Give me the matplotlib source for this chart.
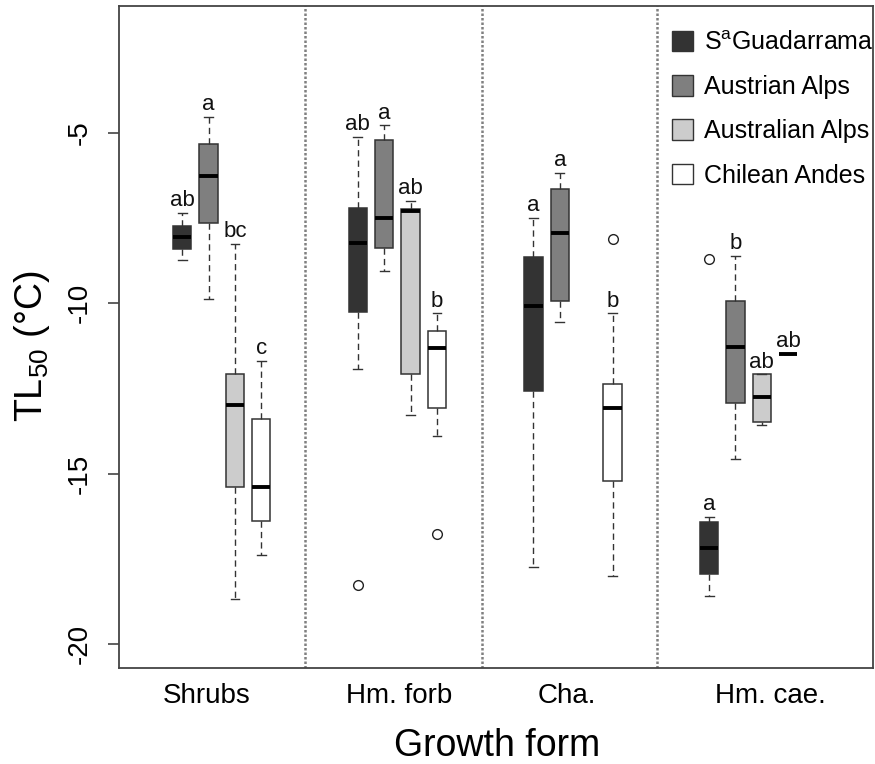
import numpy as np
import matplotlib
matplotlib.use('Agg')
import matplotlib.pyplot as plt
from matplotlib.patches import Patch

plt.rcParams['font.family'] = ['Liberation Sans', 'DejaVu Sans']
plt.rcParams['mathtext.fontset'] = 'custom'
plt.rcParams['mathtext.rm'] = 'Liberation Sans'
plt.rcParams['mathtext.it'] = 'Liberation Sans:italic'
plt.rcParams['axes.unicode_minus'] = False

forms = ['Shrubs', 'Hm. forb', 'Cha.', 'Hm. cae.']
regions = ['S$^{\\mathregular{a}}$Guadarrama', 'Austrian Alps', 'Australian Alps', 'Chilean Andes']
colors = ['#333333', '#7f7f7f', '#cccccc', '#ffffff']

# five-number summaries (low whisker, q1, median, q3, high whisker) per growth form
guadarrama = [[-8.75, -8.40, -8.06, -7.74, -7.36],
              [-11.93, -10.25, -8.23, -7.22, -5.12],
              [-17.73, -12.57, -10.08, -8.65, -7.51],
              [-18.58, -17.95, -17.18, -16.43, -16.26]]
austrian = [[-9.88, -7.66, -6.27, -5.33, -4.53],
            [-9.05, -8.39, -7.49, -5.22, -4.79],
            [-10.54, -9.94, -7.95, -6.64, -6.19],
            [-14.58, -12.92, -11.28, -9.94, -8.62]]
australian = [[-18.67, -15.38, -12.99, -12.09, -8.27],
              [-13.28, -12.08, -7.29, -7.25, -7.00],
              None,
              [-13.58, -13.48, -12.74, -12.09, -12.09]]
chilean = [[-17.38, -16.39, -15.39, -13.40, -11.69],
           [-13.89, -13.08, -11.31, -10.81, -10.30],
           [-17.99, -15.21, -13.09, -12.38, -10.30],
           [-11.49, -11.49, -11.49, -11.49, -11.49]]

# outliers: (region index, form index) -> values
outliers = {(0, 1): [-18.28], (3, 1): [-16.78], (3, 2): [-8.13], (0, 3): [-8.71]}

letters = [['ab', 'a', 'bc', 'c'],
           ['ab', 'a', 'ab', 'b'],
           ['a', 'a', None, 'b'],
           ['a', 'b', 'ab', 'ab']]

label_pos = [-0.084, 1.009, 1.963, 3.121]
separators = [0.475, 1.48, 2.48]

fig = plt.figure(figsize=(8.75, 7.64), dpi=100)
ax = fig.add_axes([0.1360, 0.1257, 0.8617, 0.8669])

all_series = [guadarrama, austrian, australian, chilean]
offset = 0.15
for r, series in enumerate(all_series):
    stats, pos = [], []
    for g, s in enumerate(series):
        if s is None:
            continue
        lo, q1, med, q3, hi = s
        stats.append(dict(whislo=lo, q1=q1, med=med, q3=q3, whishi=hi,
                          fliers=outliers.get((r, g), [])))
        pos.append(g + (r - 1.5) * offset)
    ax.bxp(stats, positions=pos, widths=0.104, capwidths=0.05, patch_artist=True,
           boxprops=dict(facecolor=colors[r], edgecolor='#333333', linewidth=1.1),
           medianprops=dict(color='black', linewidth=2.8, solid_capstyle='butt'),
           whiskerprops=dict(color='#333333', linewidth=1.0, linestyle=(0, (4.5, 3))),
           capprops=dict(color='#333333', linewidth=1.0),
           flierprops=dict(marker='o', markersize=7, markerfacecolor='none',
                           markeredgecolor='#222222', markeredgewidth=1.0))

# significance letters above each box
for r, series in enumerate(all_series):
    for g, s in enumerate(series):
        lab = letters[g][r]
        if s is None or lab is None:
            continue
        ax.text(g + (r - 1.5) * offset, s[4] + 0.2, lab, ha='center', va='baseline',
                fontsize=16, color='#111111')

for x in separators:
    ax.axvline(x, color='#808080', linewidth=1.8, linestyle=(0, (1, 0.8)))

ax.set_xlim(-0.585, 3.708)
ax.set_ylim(-20.70, -1.276)
ax.set_yticks([-5, -10, -15, -20])
ax.set_xticks(label_pos)
ax.set_xticklabels(forms, fontsize=20)
ax.tick_params(axis='x', length=0, pad=11)
ax.tick_params(axis='y', length=8, width=1.2, color='#444444', labelsize=20, pad=11)
for t in ax.get_yticklabels():
    t.set_rotation(90)
    t.set_va('center')
    t.set_ha('right')

for sp in ax.spines.values():
    sp.set_color('#444444')
    sp.set_linewidth(1.3)

ax.set_ylabel('TL$_{\\mathregular{50}}$ (°C)', fontsize=27, va='baseline', ha='center')
ax.yaxis.set_label_coords(-0.102, 0.486)
ax.set_xlabel('Growth form', fontsize=27, va='baseline', ha='center')
ax.xaxis.set_label_coords(0.502, -0.1329)

handles = [Patch(facecolor=c, edgecolor='#333333', linewidth=1.0) for c in colors]
ax.legend(handles, regions, loc='upper left', bbox_to_anchor=(0.733, 0.962),
          frameon=False, fontsize=18, borderpad=0, borderaxespad=0,
          handlelength=0.84, handleheight=0.88, handletextpad=0.45, labelspacing=0.81)

fig.savefig('out.png', dpi=100)
